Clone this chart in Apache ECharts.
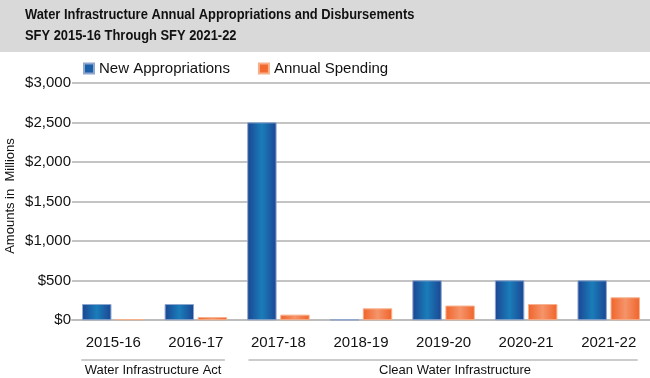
<!DOCTYPE html>
<html><head><meta charset="utf-8">
<script src="https://cdn.jsdelivr.net/npm/echarts@6/dist/echarts.min.js"></script>
<style>html,body{margin:0;padding:0;background:#fff}#c{width:650px;height:378px}</style>
</head><body><div id="c"></div>
<script>
const categories = ['2015-16','2016-17','2017-18','2018-19','2019-20','2020-21','2021-22'];
const newAppropriations = [200, 200, 2500, 5, 500, 500, 500];
const annualSpending = [10, 35, 65, 145, 180, 200, 285];
const yTicks = [0, 500, 1000, 1500, 2000, 2500, 3000];
const groups = [{name:'Water Infrastructure Act', from:0, to:1},{name:'Clean Water Infrastructure', from:2, to:6}];

const chart = echarts.init(document.getElementById('c'));
const blueGrad = new echarts.graphic.LinearGradient(0,0,1,0,[{offset:0,color:'#1b4693'},{offset:0.5,color:'#1a7db9'},{offset:1,color:'#1b4693'}]);
const orangeGrad = new echarts.graphic.LinearGradient(0,0,1,0,[{offset:0,color:'#f0642a'},{offset:0.5,color:'#f5946a'},{offset:1,color:'#f0642a'}]);
const font = 'Liberation Sans, Arial, sans-serif';
chart.setOption({
  animation:false,
  textStyle:{fontFamily:font},
  grid:{left:72,right:0,top:83,bottom:58,containLabel:false,outerBoundsMode:'none'},
  legend:{top:56,left:78,itemWidth:10,itemHeight:10,itemGap:28,icon:'rect',
    textStyle:{fontSize:15,color:'#111',fontFamily:font},
    data:[{name:'New Appropriations',itemStyle:{color:'#1a5fa8'}},{name:'Annual Spending',itemStyle:{color:'#f26a30'}}]},
  xAxis:{type:'category',data:categories,axisTick:{show:false},
    axisLine:{lineStyle:{color:'#bdbdbd',width:2}},
    axisLabel:{fontSize:15,color:'#111',margin:15,fontFamily:font}},
  yAxis:{type:'value',min:yTicks[0],max:yTicks[yTicks.length-1],interval:500,
    axisLabel:{fontSize:15,color:'#111',margin:1,fontFamily:font,
      formatter:v=>'$'+v.toLocaleString('en-US')},
    splitLine:{lineStyle:{color:'#c4c4c4',width:2}},axisLine:{show:false},axisTick:{show:false}},
  series:[
    {name:'New Appropriations',type:'bar',data:newAppropriations,barWidth:29,barGap:'14%',
      itemStyle:{color:blueGrad,borderColor:'#8fa6cf',borderWidth:0.6}},
    {name:'Annual Spending',type:'bar',data:annualSpending,barWidth:29,
      itemStyle:{color:orangeGrad,borderColor:'#f7b08c',borderWidth:0.6}}
  ]
});
const extra = [];
groups.forEach((gr,i)=>{
  const x0 = chart.convertToPixel({xAxisIndex:0}, categories[gr.from]);
  const x1 = chart.convertToPixel({xAxisIndex:0}, categories[gr.to]);
  const left = x0 - 32 + (i===0?0:2), right = x1 + 29;
  extra.push({type:'line',shape:{x1:left,y1:360,x2:right,y2:360},style:{stroke:'#999',lineWidth:1}});
  extra.push({type:'text',x:(left+right)/2 + (i===0?0:12),y:364,style:{text:gr.name,font:'13px '+font,fill:'#111',align:'center',verticalAlign:'top'}});
});
chart.setOption({graphic:[
  {type:'rect',left:0,top:0,shape:{width:650,height:52},style:{fill:'#d9d9d9'},z:-1},
  {type:'text',x:25,y:4,scaleX:0.86,originX:0,style:{text:'Water Infrastructure Annual Appropriations and Disbursements\nSFY 2015-16 Through SFY 2021-22',
      font:'bold 15px '+font,fill:'#111',lineHeight:21}},
  {type:'text',x:10,y:196,rotation:Math.PI/2,style:{text:'Amounts in  Millions',font:'13px '+font,fill:'#111',align:'center',verticalAlign:'middle'}}
].concat(extra)});
</script></body></html>
